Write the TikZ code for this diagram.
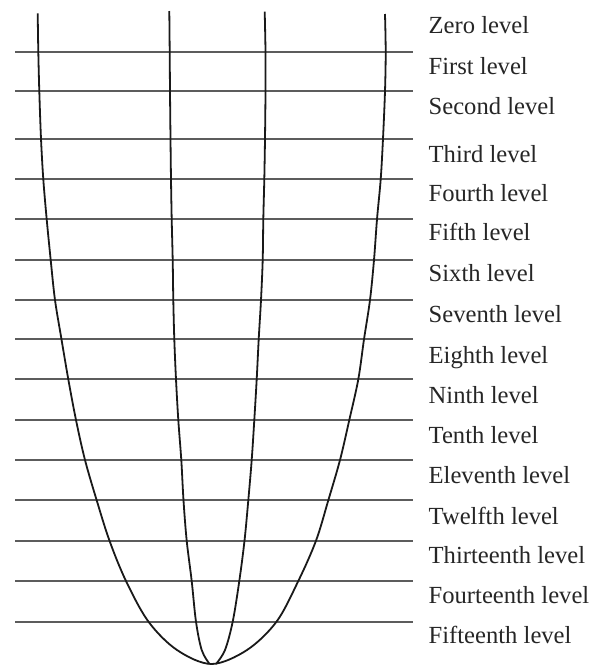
\documentclass[tikz,border=0pt]{standalone}
\usepackage{fontspec}
\setmainfont{Liberation Serif}
\usepackage{tikz}
\definecolor{levelgray}{gray}{0.36}

\begin{document}
\begin{tikzpicture}[
  x=1pt, y=-1pt,
  level/.style={draw=levelgray, line width=2pt},
  orbit/.style={draw=black!90, line width=1.8pt, smooth, tension=0.55},
  lab/.style={anchor=base west, inner sep=0pt, text=black!85, font=\fontsize{24.6}{28}\selectfont}]

\useasboundingbox (0,0) rectangle (592,665);

% horizontal levels
\draw[level] (15,51.7) -- (412.5,51.7);
\draw[level] (15,91.3) -- (412.5,91.3);
\draw[level] (15,138.7) -- (412.5,138.7);
\draw[level] (15,179.3) -- (412.5,179.3);
\draw[level] (15,219.3) -- (412.5,219.3);
\draw[level] (15,260) -- (412.5,260);
\draw[level] (15,300) -- (412.5,300);
\draw[level] (15,339.3) -- (412.5,339.3);
\draw[level] (15,379.3) -- (412.5,379.3);
\draw[level] (15,420) -- (412.5,420);
\draw[level] (15,460) -- (412.5,460);
\draw[level] (15,500.3) -- (412.5,500.3);
\draw[level] (15,540.7) -- (412.5,540.7);
\draw[level] (15,581) -- (412.5,581);
\draw[level] (15,621.7) -- (412.5,621.7);

% outer well, one U through the bottom point
\draw[orbit] plot coordinates {(37.7,13.3) (38.3,51.7) (39.3,91.3) (41,138.7) (43.3,179.3)
  (46.7,219.3) (50.7,260) (55,300) (61.5,339.3) (68.3,379.3) (76,420) (85,460) (96.7,500.3)
  (109.5,540.7) (126,581) (148.5,621.7) (177,650) (211.5,664)
  (247,650) (276.5,621.7) (298.3,581) (316,540.7) (328.3,500.3)
  (340,460) (349.3,420) (358.3,379.3) (364,339.3) (370,300) (374,260) (377,219.3)
  (380.7,179.3) (383,138.7) (385,91.3) (385.7,51.7) (385,14)};
% inner pair, meeting in a point
\draw[orbit] plot coordinates {(169.3,11) (169.7,51.7) (170,91.3) (170.5,138.7) (171,179.3)
  (171.7,219.3) (172.7,260) (173.3,300) (174.3,339.3) (176,379.3) (178.3,420) (181.3,460)
  (183.5,500.3) (186.7,540.7) (191.7,581) (196,621.7) (201.7,650) (209.5,664)};
\draw[orbit] plot coordinates {(264.7,11.7) (265.5,51.7) (265.5,91.3) (265,138.7) (264.3,179.3)
  (263.3,219.3) (262.7,260) (261,300) (258.7,339.3) (256.7,379.3) (254.3,420) (251.7,460)
  (248.3,500.3) (244.5,540.7) (239.3,581) (232.7,621.7) (225,650) (216,664)};

% level names
\node[lab] (l0) at (428.5,33.3) {Zero level};
\node[lab] (l1) at (428.5,74) {First level};
\node[lab] (l2) at (428.5,114) {Second level};
\node[lab] (l3) at (428.5,162) {Third level};
\node[lab] (l4) at (428.5,201.7) {Fourth level};
\node[lab] (l5) at (428.5,240.7) {Fifth level};
\node[lab] (l6) at (428.5,281.7) {Sixth level};
\node[lab] (l7) at (428.5,322.7) {Seventh level};
\node[lab] (l8) at (428.5,363.3) {Eighth level};
\node[lab] (l9) at (428.5,403) {Ninth level};
\node[lab] (l10) at (428.5,443) {Tenth level};
\node[lab] (l11) at (428.5,483) {Eleventh level};
\node[lab] (l12) at (428.5,524) {Twelfth level};
\node[lab] (l13) at (428.5,563) {Thirteenth level};
\node[lab] (l14) at (428.5,603) {Fourteenth level};
\node[lab] (l15) at (428.5,643) {Fifteenth level};
\end{tikzpicture}
\end{document}
